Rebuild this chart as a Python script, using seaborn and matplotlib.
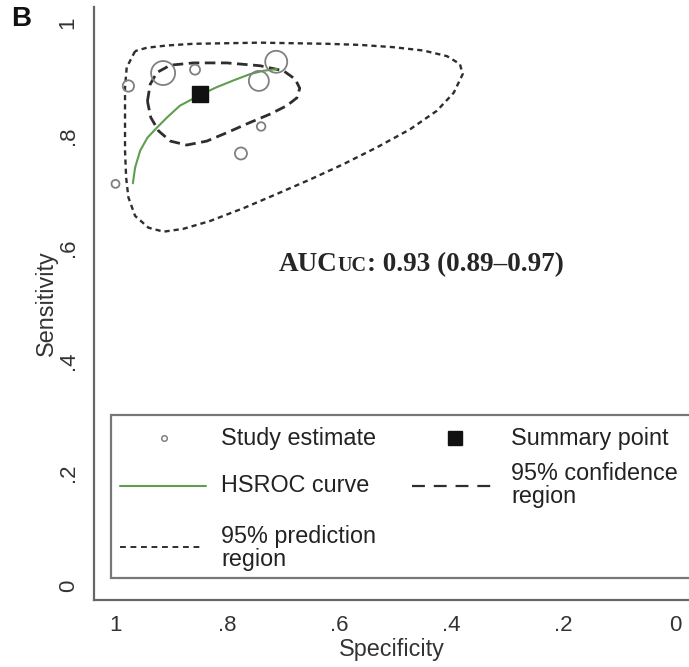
import numpy as np
import pandas as pd
import matplotlib
matplotlib.use("Agg")
import matplotlib.pyplot as plt
from matplotlib.lines import Line2D
from matplotlib.patches import Rectangle
import seaborn as sns

# ---- data -------------------------------------------------------------
# individual study estimates
study_spec = [1.000, 0.977, 0.915, 0.858, 0.713, 0.744, 0.740, 0.776]
study_sens = [0.714, 0.888, 0.911, 0.917, 0.931, 0.897, 0.816, 0.768]
study_weight = [33, 67, 299, 52, 251, 207, 38, 75]   # marker area

# summary operating point
summary_spec = [0.849]
summary_sens = [0.874]

# HSROC curve
hsroc_spec = [0.969, 0.965, 0.956, 0.943, 0.926, 0.908, 0.885, 0.849,
              0.819, 0.789, 0.760, 0.736, 0.712]
hsroc_sens = [0.715, 0.743, 0.773, 0.796, 0.814, 0.832, 0.853, 0.872,
              0.886, 0.898, 0.909, 0.915, 0.918]

# 95% confidence region
conf_spec = [0.943, 0.938, 0.926, 0.902, 0.861, 0.801, 0.742, 0.700, 0.679,
             0.671, 0.676, 0.694, 0.724, 0.760, 0.801, 0.837, 0.873, 0.902,
             0.923, 0.937]
conf_sens = [0.861, 0.891, 0.912, 0.925, 0.929, 0.929, 0.924, 0.915, 0.900,
             0.884, 0.867, 0.853, 0.838, 0.823, 0.805, 0.790, 0.783, 0.790,
             0.808, 0.832]

# 95% prediction region
pred_spec = [0.965, 0.980, 0.983, 0.983, 0.983, 0.981, 0.977, 0.965, 0.941,
             0.914, 0.879, 0.831, 0.771, 0.712, 0.652, 0.593, 0.533, 0.474,
             0.426, 0.396, 0.380, 0.385, 0.408, 0.450, 0.504, 0.563, 0.623,
             0.682, 0.742, 0.801, 0.861, 0.908, 0.944]
pred_sens = [0.950, 0.921, 0.885, 0.832, 0.773, 0.725, 0.690, 0.657, 0.636,
             0.629, 0.634, 0.648, 0.671, 0.696, 0.722, 0.749, 0.779, 0.811,
             0.844, 0.876, 0.909, 0.927, 0.941, 0.951, 0.957, 0.961, 0.963,
             0.964, 0.965, 0.964, 0.963, 0.960, 0.956]

tick_values = [0, 0.2, 0.4, 0.6, 0.8, 1.0]
tick_labels = ["0", ".2", ".4", ".6", ".8", "1"]

auc_label = ": 0.93 (0.89\u20130.97)"

# ---- style ------------------------------------------------------------
sns.set_style("white")
plt.rcParams["font.family"] = ["Liberation Sans", "DejaVu Sans"]

W, H = 689, 667
fig = plt.figure(figsize=(W / 100, H / 100), dpi=100)
ax = fig.add_axes([94 / W, 1 - 600 / H, (W - 94) / W, 593 / H])

def fx(px):
    return px / W

def fy(py):
    return 1 - py / H

line_dark = "#2e2e2e"
axis_grey = "#666666"
green = "#5f9e4f"

# prediction region (closed loop)
sns.lineplot(x=pred_spec + pred_spec[:1], y=pred_sens + pred_sens[:1],
             sort=False, estimator=None, ax=ax, color=line_dark,
             linewidth=1.7, linestyle=(0, (2.2, 1.7)))
# confidence region (closed loop)
sns.lineplot(x=conf_spec + conf_spec[:1], y=conf_sens + conf_sens[:1],
             sort=False, estimator=None, ax=ax, color=line_dark,
             linewidth=2.0, linestyle=(0, (3.8, 2.0)))
# HSROC curve
sns.lineplot(x=hsroc_spec, y=hsroc_sens, sort=False, estimator=None, ax=ax,
             color=green, linewidth=1.5)

# study estimates, area proportional to weight
studies = pd.DataFrame({"spec": study_spec, "sens": study_sens,
                        "weight": study_weight})
sns.scatterplot(data=studies, x="spec", y="sens", size="weight",
                sizes=(min(study_weight), max(study_weight)),
                facecolor="none", edgecolor="#808080", linewidth=1.3,
                legend=False, ax=ax, zorder=3)

# summary point
ax.plot(summary_spec, summary_sens, marker="s", markersize=11,
        color="#111111", linestyle="none", zorder=4)

# ---- axes -------------------------------------------------------------
ax.set_xlim(1.0384, -0.0241)
ax.set_ylim(-0.0258, 1.0284)
ax.set_xticks(tick_values)
ax.set_xticklabels(tick_labels)
ax.set_yticks(tick_values)
ax.set_yticklabels(tick_labels, rotation=90, va="center")
ax.tick_params(axis="both", direction="out", length=6, width=1.3,
               color=axis_grey, labelsize=16, labelcolor="#333333", pad=5)
for side in ["top", "right"]:
    ax.spines[side].set_visible(False)
for side in ["left", "bottom"]:
    ax.spines[side].set_color(axis_grey)
    ax.spines[side].set_linewidth(1.6)
ax.set_xlabel("Specificity", fontsize=16.8, color="#333333", labelpad=1)
ax.set_ylabel("Sensitivity", fontsize=16.8, color="#333333", labelpad=0)

# ---- AUC annotation ---------------------------------------------------
serif = ["Liberation Serif", "DejaVu Serif"]
t1 = ax.text(0.708, 0.559, "AUC", fontsize=19.5, fontweight="bold",
             family=serif, ha="left", va="baseline")
t2 = ax.annotate("UC", xy=(1, 0), xycoords=t1, xytext=(0, 1.0),
                 textcoords="offset points", fontsize=14.5, fontweight="bold",
                 family=serif, ha="left", va="bottom")
ax.annotate(auc_label, xy=(1, 0), xycoords=t2, xytext=(0, -1.0),
            textcoords="offset points", fontsize=19.5, fontweight="bold",
            family=serif, ha="left", va="bottom")

# ---- legend -----------------------------------------------------------
fig.add_artist(Rectangle((fx(111), fy(578)), fx(700) - fx(111),
                         fy(415) - fy(578), transform=fig.transFigure,
                         facecolor="white", edgecolor="#777777",
                         linewidth=1.6, zorder=5))
leg_fs = 16.8
txt_kw = dict(fontsize=leg_fs, color="#222222", va="center", ha="left",
              linespacing=1.0, zorder=6)

fig.add_artist(Line2D([fx(164)], [fy(438)], marker="o", markersize=4,
                      markerfacecolor="none", markeredgecolor="#808080",
                      markeredgewidth=1.1, linestyle="none",
                      transform=fig.transFigure, zorder=6))
fig.text(fx(221), fy(438), "Study estimate", **txt_kw)
fig.add_artist(Line2D([fx(455)], [fy(438)], marker="s", markersize=9.5,
                      color="#111111", linestyle="none",
                      transform=fig.transFigure, zorder=6))
fig.text(fx(511), fy(438), "Summary point", **txt_kw)

fig.add_artist(Line2D([fx(120), fx(206)], [fy(486), fy(486)],
                      color=green, linewidth=1.5,
                      transform=fig.transFigure, zorder=6))
fig.text(fx(221), fy(486), "HSROC curve", **txt_kw)
fig.add_artist(Line2D([fx(412), fx(491)], [fy(486), fy(486)],
                      color=line_dark, linewidth=1.6,
                      linestyle=(0, (5.8, 4.0)),
                      transform=fig.transFigure, zorder=6))
fig.text(fx(511), fy(485), "95% confidence\nregion", **txt_kw)

fig.add_artist(Line2D([fx(120), fx(202)], [fy(547), fy(547)],
                      color=line_dark, linewidth=1.4,
                      linestyle=(0, (3.0, 2.4)),
                      transform=fig.transFigure, zorder=6))
fig.text(fx(221), fy(548), "95% prediction\nregion", **txt_kw)

# panel letter
fig.text(fx(11), fy(6), "B", fontsize=20, fontweight="bold", color="#111111",
         ha="left", va="top")

fig.savefig("out.png", dpi=100)
